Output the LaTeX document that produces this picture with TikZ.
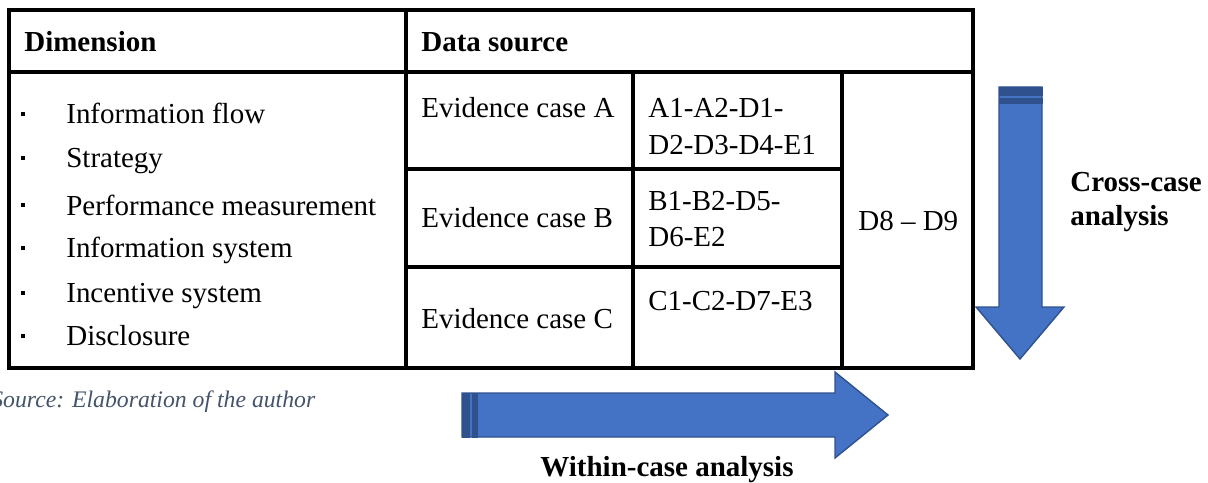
\documentclass[tikz,border=0pt]{standalone}
\usepackage{fontspec}
\setmainfont{Liberation Serif}
\definecolor{arrowblue}{HTML}{4472C4}
\definecolor{arrowedge}{HTML}{2F528F}
\definecolor{sourcegray}{HTML}{44546A}
\tikzset{
	tableline/.style={line width=1.8pt},
	txt/.style={anchor=base west,inner sep=0pt,font=\fontsize{16.5}{19.8}\selectfont},
	hdr/.style={txt,font=\fontsize{16.5}{19.8}\selectfont\bfseries},
	blockarrow/.style={fill=arrowblue,draw=arrowedge,line width=0.8pt,line join=miter},
	stripe/.style={fill=arrowedge,draw=arrowedge,line width=0.5pt}
}

\begin{document}
\begin{tikzpicture}[x=0.02cm,y=-0.02cm]
	\useasboundingbox (0,0) rectangle (1208,483);
	% table
	\draw[tableline] (9,10) rectangle (973,368);
	\draw[tableline] (9,72) -- (973,72);
	\draw[tableline] (406,10) -- (406,368);
	\draw[tableline] (633,72) -- (633,368);
	\draw[tableline] (842,72) -- (842,368);
	\draw[tableline] (406,169) -- (842,169);
	\draw[tableline] (406,267) -- (842,267);
	% headings
	\node[hdr] (dimhead) at (24,52) {Dimension};
	\node[hdr] (srchead) at (421,52) {Data source};
	% dimensions
	\fill (21,112.5) rectangle (25,116.5);
	\node[txt] (item1) at (66,124) {Information flow};
	\fill (21,156.5) rectangle (25,160.5);
	\node[txt] (item2) at (66,168) {Strategy};
	\fill (21,203.5) rectangle (25,207.5);
	\node[txt] (item3) at (66,215) {Performance measurement};
	\fill (21,245.5) rectangle (25,249.5);
	\node[txt] (item4) at (66,257) {Information system};
	\fill (21,290.5) rectangle (25,294.5);
	\node[txt] (item5) at (66,302) {Incentive system};
	\fill (21,333.5) rectangle (25,337.5);
	\node[txt] (item6) at (66,345) {Disclosure};
	% evidence per case
	\node[txt] (evA) at (421,118) {Evidence case A};
	\node[txt] (evB) at (421,228) {Evidence case B};
	\node[txt] (evC) at (421,328) {Evidence case C};
	\node[txt] (refA) at (648,118) {A1-A2-D1-};
	\node[txt] (refA2) at (648,154) {D2-D3-D4-E1};
	\node[txt] (refB) at (648,211) {B1-B2-D5-};
	\node[txt] (refB2) at (648,247) {D6-E2};
	\node[txt] (refC) at (648,310) {C1-C2-D7-E3};
	\node[txt] (shared) at (858,231) {D8 -- D9};
	% arrows
	\draw[blockarrow] (999,87) -- (1042,87) -- (1042,307) -- (1064,307) -- (1020,359) -- (976,307) -- (999,307) -- cycle;
	\draw[stripe] (999,87) rectangle (1042,95);
	\draw[stripe] (999,98) rectangle (1042,103);
	\draw[blockarrow] (462,393) -- (835,393) -- (835,372) -- (888,415) -- (835,458) -- (835,437) -- (462,437) -- cycle;
	\draw[stripe] (462,393) rectangle (469,437);
	\draw[stripe] (472,393) rectangle (477,437);
	\node[hdr,align=left,anchor=west] (crosslbl) at (1070,202) {Cross-case\\analysis};
	\node[hdr,anchor=base] (withinlbl) at (667,476) {Within-case analysis};
	% source
	\node[txt,font=\fontsize{13.5}{16}\selectfont\itshape,text=sourcegray] (source) at (-9,407) {Source: Elaboration of the author};
\end{tikzpicture}
\end{document}
